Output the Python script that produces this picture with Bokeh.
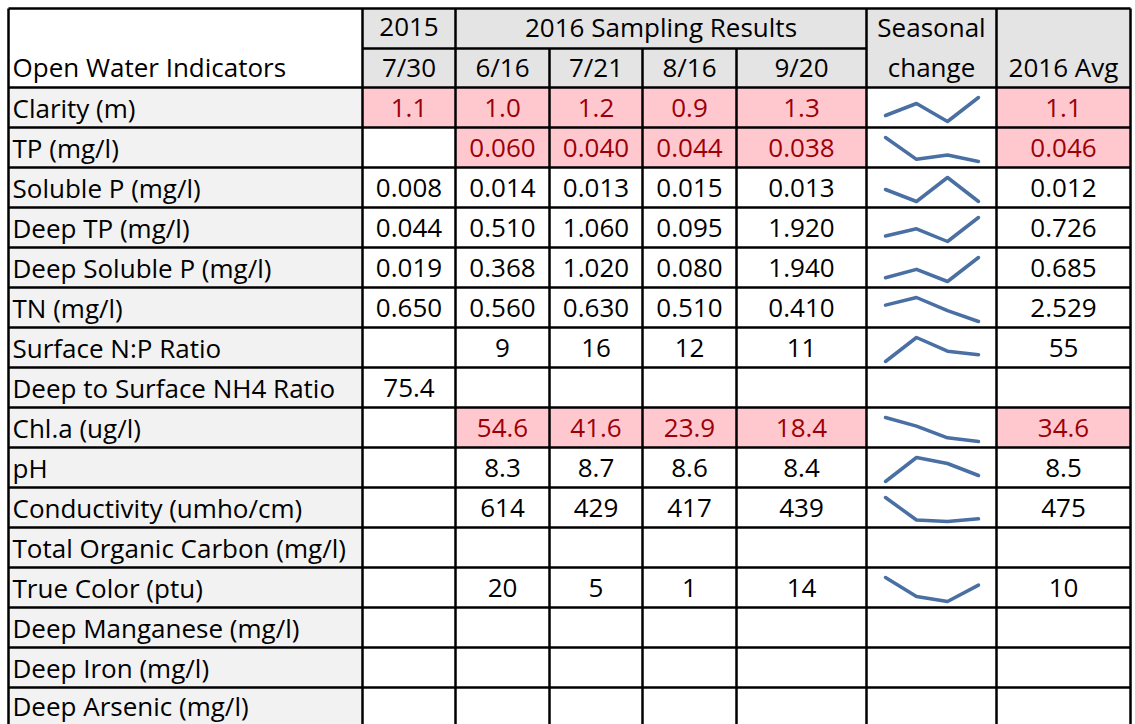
from bokeh.plotting import figure
from bokeh.models import Range1d, ColumnDataSource
from bokeh.core.properties import value
from bokeh.embed import file_html
from bokeh.resources import INLINE

# ---------------- data ----------------
indicators = ["Clarity (m)", "TP (mg/l)", "Soluble P (mg/l)", "Deep TP (mg/l)",
              "Deep Soluble P (mg/l)", "TN (mg/l)", "Surface N:P Ratio",
              "Deep to Surface NH4 Ratio", "Chl.a (ug/l)", "pH",
              "Conductivity (umho/cm)", "Total Organic Carbon (mg/l)",
              "True Color (ptu)", "Deep Manganese (mg/l)", "Deep Iron (mg/l)",
              "Deep Arsenic (mg/l)"]
col_2015 = ["1.1", "", "0.008", "0.044", "0.019", "0.650", "", "75.4",
            "", "", "", "", "", "", "", ""]
d_0616 = ["1.0", "0.060", "0.014", "0.510", "0.368", "0.560", "9", "",
          "54.6", "8.3", "614", "", "20", "", "", ""]
d_0721 = ["1.2", "0.040", "0.013", "1.060", "1.020", "0.630", "16", "",
          "41.6", "8.7", "429", "", "5", "", "", ""]
d_0816 = ["0.9", "0.044", "0.015", "0.095", "0.080", "0.510", "12", "",
          "23.9", "8.6", "417", "", "1", "", "", ""]
d_0920 = ["1.3", "0.038", "0.013", "1.920", "1.940", "0.410", "11", "",
          "18.4", "8.4", "439", "", "14", "", "", ""]
avg_2016 = ["1.1", "0.046", "0.012", "0.726", "0.685", "2.529", "55", "",
            "34.6", "8.5", "475", "", "10", "", "", ""]
flagged = ["Clarity (m)", "TP (mg/l)", "Chl.a (ug/l)"]
header_top = ["2015", "2016 Sampling Results", "Seasonal"]
header_dates = ["7/30", "6/16", "7/21", "8/16", "9/20"]
header_first = "Open Water Indicators"
header_change = "change"
header_avg = "2016 Avg"

# ---------------- layout ----------------
FONT = "Open Sans"
FS = "26px"
col_edges = [8, 362, 455, 549, 642, 736, 866, 996, 1130]
h_top, h_mid, h_bot = 8, 48, 87
ROW_H = 40
n = len(indicators)
row_tops = [h_bot + i * ROW_H for i in range(n)]

HEADER_GRAY = "#e4e4e4"
LABEL_GRAY = "#f2f2f2"
PINK = "#ffc7ce"
DARK_RED = "#9c0006"
SPARK = "#4a6fa3"

W, H = 1135, 724
p = figure(width=W, height=H, output_backend="svg", toolbar_location=None,
           x_range=Range1d(0, W), y_range=Range1d(H, 0),
           min_border=0, outline_line_color=None)
p.axis.visible = False
p.grid.visible = False
p.background_fill_color = "white"
p.border_fill_color = "white"

# fills
ql, qr, qt, qb, qc = [], [], [], [], []
def cell(l, r, t, b, c):
    ql.append(l); qr.append(r); qt.append(t); qb.append(b); qc.append(c)

cell(col_edges[1], col_edges[8], h_top, h_bot, HEADER_GRAY)
for i, name in enumerate(indicators):
    t = row_tops[i]; b = t + ROW_H
    cell(col_edges[0], col_edges[1], t, b, LABEL_GRAY)
    vals = [col_2015[i], d_0616[i], d_0721[i], d_0816[i], d_0920[i], None, avg_2016[i]]
    if name in flagged:
        for j, v in enumerate(vals):
            if v:
                cell(col_edges[j + 1], col_edges[j + 2], t, b, PINK)
p.quad(left=ql, right=qr, top=qt, bottom=qb, fill_color=qc, line_color=None)

# sparklines
sx0 = col_edges[6] + 19
sx1 = col_edges[7] - 18
for i in range(n):
    series = [d_0616[i], d_0721[i], d_0816[i], d_0920[i]]
    if not all(series):
        continue
    vs = [float(v) for v in series]
    lo, hi = min(vs), max(vs)
    t = row_tops[i]
    ytop, ybot = t + 10, t + ROW_H - 6
    xs = [sx0 + k * (sx1 - sx0) / 3 for k in range(4)]
    ys = [ybot - (v - lo) / (hi - lo) * (ybot - ytop) for v in vs]
    p.line(xs, ys, line_color=SPARK, line_width=3.5, line_join="round", line_cap="round")

# texts
tx, ty, tt, tc, ta = [], [], [], [], []
def txt(x, y, s, c="black", a="center"):
    tx.append(x); ty.append(y); tt.append(s); tc.append(c); ta.append(a)

def mid(j):
    return (col_edges[j] + col_edges[j + 1]) / 2

DY = -3
y_h1 = h_top + 21.5 + DY
y_h2 = h_mid + 21.5 + DY
txt(col_edges[0] + 4, y_h2, header_first, a="left")
txt(mid(1), y_h1, header_top[0])
txt((col_edges[2] + col_edges[6]) / 2, y_h1, header_top[1])
txt(mid(6), y_h1, header_top[2])
for j, d in enumerate(header_dates):
    txt(mid(1 + j), y_h2, d)
txt(mid(6), y_h2, header_change)
txt(mid(7), y_h2, header_avg)

for i, name in enumerate(indicators):
    yc = min(row_tops[i] + 23.5 + DY, H - 19)
    txt(col_edges[0] + 4, yc, name, a="left")
    c = DARK_RED if name in flagged else "black"
    vals = [col_2015[i], d_0616[i], d_0721[i], d_0816[i], d_0920[i]]
    for j, v in enumerate(vals):
        if v:
            txt(mid(1 + j), yc, v, c)
    if avg_2016[i]:
        txt(mid(7), yc, avg_2016[i], c)

src = ColumnDataSource(dict(x=tx, y=ty, text=tt, color=tc, align=ta))
p.text(x="x", y="y", text="text", source=src, text_color="color", text_align="align",
       text_baseline="middle", text_font=value(FONT), text_font_size=FS)

# borders
x0s, y0s, x1s, y1s = [], [], [], []
def seg(a, b, c, d):
    x0s.append(a); y0s.append(b); x1s.append(c); y1s.append(d)

bottom = row_tops[-1] + ROW_H
seg(col_edges[0], h_top, col_edges[8], h_top)
seg(col_edges[1], h_mid, col_edges[6], h_mid)
seg(col_edges[0], h_bot, col_edges[8], h_bot)
for t in row_tops[1:] + [bottom]:
    seg(col_edges[0], t, col_edges[8], t)
seg(col_edges[0], h_top, col_edges[0], bottom)
seg(col_edges[8], h_top, col_edges[8], bottom)
for j in (1, 2, 6, 7):
    seg(col_edges[j], h_top, col_edges[j], bottom)
for j in (3, 4, 5):
    seg(col_edges[j], h_mid, col_edges[j], bottom)
p.segment(x0=x0s, y0=y0s, x1=x1s, y1=y1s, line_color="black", line_width=2.5)

open("out.html", "w").write(file_html(p, INLINE))
